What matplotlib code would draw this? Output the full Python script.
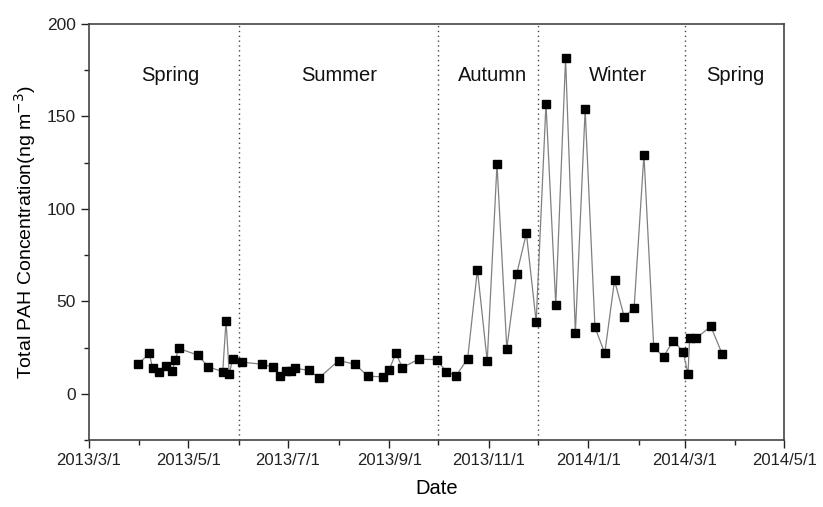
import pandas as pd
import numpy as np
import matplotlib
matplotlib.use("Agg")
import matplotlib.pyplot as plt
import matplotlib.dates as mdates

plt.rcParams['font.family'] = ['Liberation Sans', 'DejaVu Sans']

# sampling dates and total PAH values
dates = ["2013-03-31", "2013-04-07", "2013-04-09", "2013-04-13", "2013-04-17",
         "2013-04-21", "2013-04-23", "2013-04-25", "2013-05-07", "2013-05-13",
         "2013-05-22", "2013-05-24", "2013-05-26", "2013-05-28", "2013-06-03",
         "2013-06-15", "2013-06-22", "2013-06-26", "2013-06-30", "2013-07-03",
         "2013-07-05", "2013-07-14", "2013-07-20", "2013-08-01", "2013-08-11",
         "2013-08-19", "2013-08-28", "2013-09-01", "2013-09-05", "2013-09-09",
         "2013-09-19", "2013-09-30", "2013-10-06", "2013-10-12", "2013-10-19",
         "2013-10-25", "2013-10-31", "2013-11-06", "2013-11-12", "2013-11-18",
         "2013-11-24", "2013-11-30", "2013-12-06", "2013-12-12", "2013-12-18",
         "2013-12-24", "2013-12-30", "2014-01-05", "2014-01-11", "2014-01-17",
         "2014-01-23", "2014-01-29", "2014-02-04", "2014-02-10", "2014-02-16",
         "2014-02-22", "2014-02-28", "2014-03-03", "2014-03-04", "2014-03-08",
         "2014-03-17", "2014-03-24"]
pah = [16.0, 21.8, 14.0, 11.7, 15.3, 12.6, 18.5, 24.6, 20.8, 14.6,
       12.0, 39.4, 10.6, 18.7, 17.1, 16.0, 14.4, 9.9, 12.4, 12.4,
       13.8, 12.7, 8.6, 18.0, 16.0, 9.5, 9.2, 13.0, 22.0, 14.2,
       18.7, 18.5, 11.9, 9.9, 18.9, 67.1, 17.6, 124.1, 24.5, 64.6,
       86.7, 38.9, 156.8, 48.2, 181.3, 32.8, 153.9, 36.0, 21.9, 61.3,
       41.4, 46.6, 129.2, 25.2, 20.0, 28.8, 22.7, 10.6, 30.1, 30.1,
       36.4, 21.4]

season_breaks = ["2013-06-01", "2013-10-01", "2013-12-01", "2014-03-01"]
season_names = ["Spring", "Summer", "Autumn", "Winter", "Spring"]
season_label_x = ["2013-04-20", "2013-08-01", "2013-11-03", "2014-01-19", "2014-04-01"]

x = pd.to_datetime(dates)

fig = plt.figure(figsize=(8.23, 5.07), dpi=100)
ax = fig.add_axes([0.108, 0.132, 0.845, 0.821])

ax.plot(x, pah, color="#808080", lw=0.9, zorder=2)
ax.plot(x, pah, ls="none", marker="s", ms=5.5, color="black", zorder=3)

for b in pd.to_datetime(season_breaks):
    ax.axvline(b, color="#444444", ls=(0, (1, 2.5)), lw=1.0, zorder=1)

for name, lx in zip(season_names, pd.to_datetime(season_label_x)):
    ax.text(lx, 172, name, ha="center", va="center", fontsize=14.5, color="#111111")

ax.set_xlim(pd.Timestamp("2013-03-01"), pd.Timestamp("2014-05-01"))
ax.set_ylim(-25, 200)
ax.set_yticks([0, 50, 100, 150, 200])
ax.set_yticks([-25, 25, 75, 125, 175], minor=True)
major = pd.to_datetime(["2013-03-01", "2013-05-01", "2013-07-01", "2013-09-01",
                        "2013-11-01", "2014-01-01", "2014-03-01", "2014-05-01"])
ax.set_xticks(major)
ax.set_xticklabels([f"{d.year}/{d.month}/{d.day}" for d in major])
ax.xaxis.set_minor_locator(mdates.MonthLocator(bymonth=[4, 6, 8, 10, 12, 2]))

ax.tick_params(which="major", length=6, width=1, colors="#222222")
ax.tick_params(axis="x", which="major", labelsize=12)
ax.tick_params(axis="y", which="major", labelsize=12.5)
ax.tick_params(which="minor", length=3.5, width=1, colors="#222222")
ax.tick_params(top=False, right=False)
for s in ax.spines.values():
    s.set_color("#444444")
    s.set_linewidth(1.2)

ax.set_xlabel("Date", fontsize=14.5, labelpad=8)
ax.set_ylabel("Total PAH Concentration(ng m$^{-3}$)", fontsize=14, labelpad=6)

fig.savefig("out.png", dpi=100)
